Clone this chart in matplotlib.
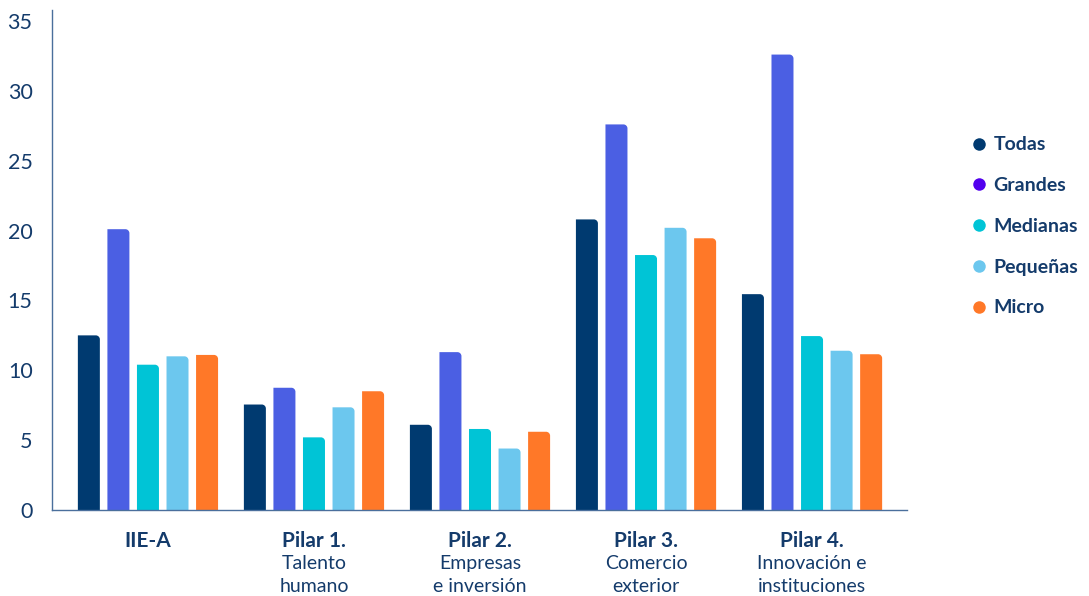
import matplotlib
matplotlib.use("Agg")
import matplotlib.pyplot as plt
import numpy as np
from matplotlib.path import Path
from matplotlib.patches import PathPatch
from matplotlib.transforms import blended_transform_factory
from matplotlib.lines import Line2D

plt.rcParams['font.family'] = ['Lato', 'DejaVu Sans']

groups_bold = ["IIE-A", "Pilar 1.", "Pilar 2.", "Pilar 3.", "Pilar 4."]
groups_sub = ["", "Talento\nhumano", "Empresas\ne inversión", "Comercio\nexterior", "Innovación e\ninstituciones"]
series = ["Todas", "Grandes", "Medianas", "Pequeñas", "Micro"]
todas = [12.5, 7.55, 6.1, 20.8, 15.45]
grandes = [20.1, 8.75, 11.3, 27.6, 32.6]
medianas = [10.4, 5.2, 5.8, 18.25, 12.45]
pequenas = [11.0, 7.35, 4.4, 20.2, 11.4]
micro = [11.1, 8.5, 5.6, 19.45, 11.15]
values = [todas, grandes, medianas, pequenas, micro]
yticks = [0, 5, 10, 15, 20, 25, 30, 35]

bar_colors = ["#003A70", "#4B5FE3", "#00C4D6", "#6CC7EE", "#FF7828"]
legend_colors = ["#003A70", "#5200EE", "#00C4D6", "#6CC7EE", "#FF7828"]
text_color = "#143B6B"
axis_color = "#4A6F9C"

fig = plt.figure(figsize=(10.89, 5.96), dpi=100)
ax = fig.add_axes([52/1089, 1-510/596, (907-52)/1089, 500/596])
ax.set_xlim(-0.578, 4.572)
ax.set_ylim(0, 35.79)

step = 0.178
width = 0.1325
x = np.arange(len(groups_bold))

# corner radius in data units (approx 4 px)
rx = 4/166
ry = 4/13.97
k = 0.5523

def bar_path(x0, w, h):
    x1 = x0 + w
    r_y = min(ry, h)
    verts = [
        (x0, 0), (x0, h), (x1 - rx, h),
        (x1 - rx + k*rx, h), (x1, h - r_y + k*r_y), (x1, h - r_y),
        (x1, 0), (x0, 0)
    ]
    codes = [Path.MOVETO, Path.LINETO, Path.LINETO,
             Path.CURVE4, Path.CURVE4, Path.CURVE4,
             Path.LINETO, Path.CLOSEPOLY]
    return Path(verts, codes)

for i, (vals, col) in enumerate(zip(values, bar_colors)):
    for g, v in zip(x, vals):
        cx = g + (i - 2) * step
        p = PathPatch(bar_path(cx - width/2, width, v), facecolor=col, edgecolor='none', zorder=2)
        ax.add_patch(p)

for s in ['top', 'right']:
    ax.spines[s].set_visible(False)
for s in ['left', 'bottom']:
    ax.spines[s].set_color(axis_color)
    ax.spines[s].set_linewidth(1.0)

ax.set_yticks(yticks)
ax.set_yticklabels([str(t) for t in yticks], color=text_color, fontsize=15.5)
ax.tick_params(axis='y', length=0, pad=14)
ax.set_xticks([])

trans = blended_transform_factory(ax.transData, fig.transFigure)
for g, b, s in zip(x, groups_bold, groups_sub):
    ax.text(g, 1-541/596, b, transform=trans, ha='center', va='center',
            fontsize=15, fontweight='bold', color=text_color)
    if s:
        ax.text(g, 1-575/596, s, transform=trans, ha='center', va='center',
                fontsize=14, color=text_color, linespacing=1.4)

handles = [Line2D([0], [0], marker='o', linestyle='none', markersize=9,
                  markerfacecolor=c, markeredgecolor='none') for c in legend_colors]
leg = fig.legend(handles, series, loc='upper left', bbox_to_anchor=(950/1089, 1-119/596),
                 frameon=False, handletextpad=0.15, labelspacing=1.22, handlelength=1.2,
                 prop={'family': ['Lato', 'DejaVu Sans'], 'weight': 'bold', 'size': 14})
for t in leg.get_texts():
    t.set_color(text_color)

fig.savefig("out.png", dpi=100)
